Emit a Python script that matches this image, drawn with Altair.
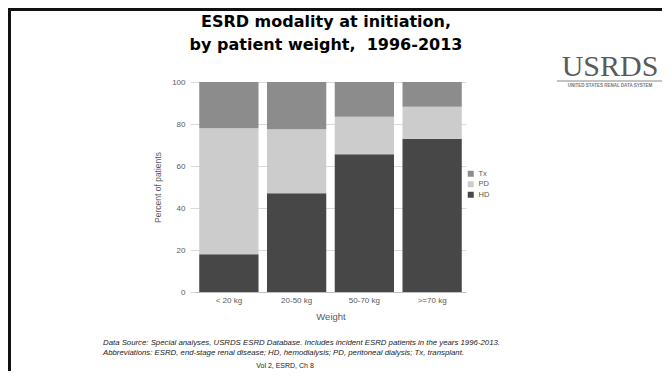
import altair as alt
import pandas as pd

weights = ["< 20 kg", "20-50 kg", "50-70 kg", ">=70 kg"]
hd = [18.0, 47.0, 65.6, 73.0]
pdl = [60.0, 30.5, 17.9, 15.2]
tx = [22.0, 22.5, 16.5, 11.8]
modalities = ["Tx", "PD", "HD"]
colors = ["#8c8c8c", "#cccccc", "#474747"]
stack_order = {"HD": 0, "PD": 1, "Tx": 2}

rows = []
for i, w in enumerate(weights):
    for m, vals in (("HD", hd), ("PD", pdl), ("Tx", tx)):
        rows.append({"weight": w, "modality": m, "pct": vals[i], "ord": stack_order[m]})
df = pd.DataFrame(rows)

W, H = 271, 210
PL, PT = 187, 74

bars = alt.Chart(df).mark_bar().encode(
    x=alt.X("weight:N", sort=weights, title="Weight",
            scale=alt.Scale(paddingInner=0.125, paddingOuter=0.0625),
            axis=alt.Axis(labelAngle=0, labelFontSize=8, labelColor="#595959",
                          titleFontSize=9.5, titleColor="#595959", titleFontWeight="normal",
                          titlePadding=7, ticks=False, labelPadding=4,
                          domainColor="#bfbfbf", labelFont="Liberation Sans", titleFont="Liberation Sans")),
    y=alt.Y("pct:Q", stack="zero", title="Percent of patients",
            scale=alt.Scale(domain=[0, 100]),
            axis=alt.Axis(values=[0, 20, 40, 60, 80, 100], domain=False, tickSize=5,
                          tickColor="#d9d9d9", gridColor="#d9d9d9", labelFontSize=8,
                          labelColor="#595959", labelPadding=5, titleFontSize=8.5,
                          titleColor="#595959", titleFontWeight="normal", titlePadding=9,
                          labelFont="Liberation Sans", titleFont="Liberation Sans")),
    color=alt.Color("modality:N", scale=alt.Scale(domain=modalities, range=colors),
                    legend=alt.Legend(title=None, orient="none", legendX=272, legendY=88,
                                      symbolType="square", symbolSize=36, symbolStrokeWidth=0,
                                      labelFontSize=7.5, labelColor="#595959", rowPadding=1.5,
                                      labelFont="Liberation Sans")),
    order=alt.Order("ord:Q"),
)

def txt(lines, x, y, size, **kw):
    d = pd.DataFrame({"t": [lines]})
    return alt.Chart(d).mark_text(fontSize=size, **kw).encode(
        text="t:N", x=alt.value(x), y=alt.value(y))

title1 = txt("ESRD modality at initiation,", 131, -60, 16, font="DejaVu Sans", fontWeight="bold", color="black")
title2 = txt("by patient weight,\u00a0 1996-2013", 131, -37, 16, font="DejaVu Sans", fontWeight="bold", color="black")
logo = txt("USRDS", 415, -6, 30, font="Liberation Serif", color="#5a5a5a", align="center", baseline="alphabetic")
logo_sub = txt("UNITED STATES RENAL DATA SYSTEM", 415, 4, 4.5, font="Liberation Sans", fontWeight="bold", color="#777777", align="center")
logo_line = alt.Chart(pd.DataFrame({"a": [0]})).mark_rule(color="#888888", strokeWidth=1).encode(
    x=alt.value(362), x2=alt.value(469), y=alt.value(-1))
foot1 = txt("Data Source: Special analyses, USRDS ESRD Database. Includes incident ESRD patients in the years 1996-2013.",
            -92, 261, 7.8, font="Liberation Sans", fontStyle="italic", color="#222222", align="left")
foot2 = txt("Abbreviations: ESRD, end-stage renal disease; HD, hemodialysis; PD, peritoneal dialysis; Tx, transplant.",
            -92, 271, 7.8, font="Liberation Sans", fontStyle="italic", color="#222222", align="left")
vol = txt("Vol 2, ESRD, Ch 8", 90, 284, 7, font="Liberation Sans", color="#222222")
frame_left = alt.Chart(pd.DataFrame({"a": [0]})).mark_rule(color="#111111", strokeWidth=3).encode(
    x=alt.value(-PL + 1.5), y=alt.value(-PT), y2=alt.value(300))
frame_top = alt.Chart(pd.DataFrame({"a": [0]})).mark_rule(color="#111111", strokeWidth=3).encode(
    x=alt.value(-PL), x2=alt.value(470), y=alt.value(-PT + 1.5))

chart = alt.layer(bars, title1, title2, logo, logo_line, logo_sub, foot1, foot2, vol, frame_left, frame_top).properties(
    width=W, height=H,
    autosize=alt.AutoSizeParams(type="none"),
    padding={"left": PL, "top": PT, "right": 654 - PL - W, "bottom": 363 - PT - H},
).configure_view(stroke=None).configure_axis(gridWidth=1)

chart.save("out.html", embed_options={"renderer": "svg", "actions": False})
